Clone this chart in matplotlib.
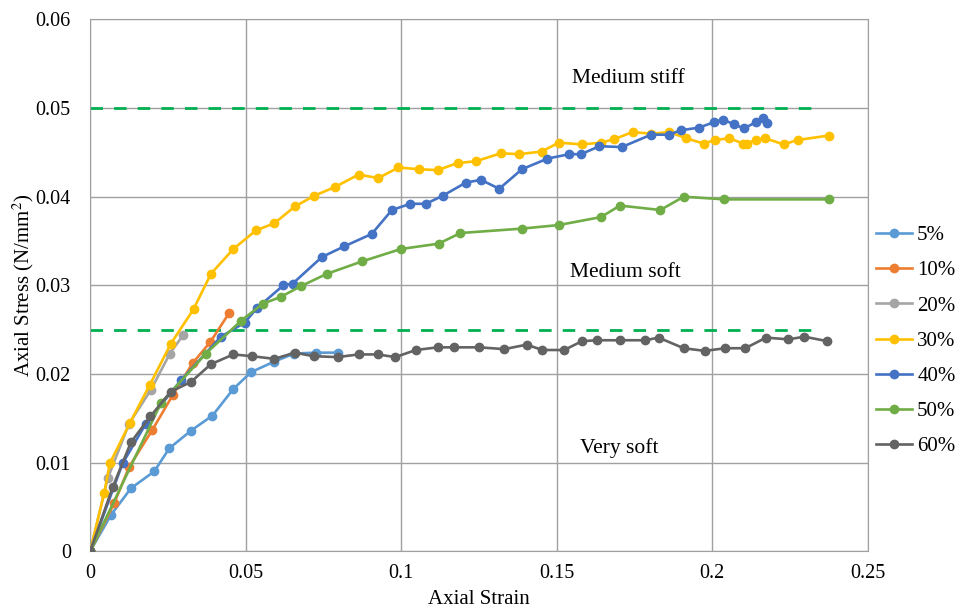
import matplotlib.pyplot as plt

# series labels and colours (Excel default palette)
labels = ['5%', '10%', '20%', '30%', '40%', '50%', '60%']
colors = ['#5B9BD5', '#ED7D31', '#A5A5A5', '#FFC000', '#4472C4', '#70AD47', '#636363']

strain_5 = [0, 0.0067, 0.0131, 0.0206, 0.0254, 0.0324, 0.0393, 0.046, 0.0517, 0.0592, 0.0656, 0.0726, 0.0795]
stress_5 = [0, 0.0041, 0.0071, 0.0090, 0.0116, 0.0136, 0.0153, 0.0183, 0.0202, 0.0214, 0.0223, 0.0224, 0.0224]

strain_10 = [0, 0.0077, 0.0125, 0.0200, 0.0265, 0.0329, 0.0386, 0.0447]
stress_10 = [0, 0.0054, 0.0095, 0.0137, 0.0176, 0.0212, 0.0236, 0.0269]

strain_20 = [0, 0.0056, 0.0125, 0.0195, 0.0256, 0.0299]
stress_20 = [0, 0.0082, 0.0144, 0.0182, 0.0223, 0.0244]

strain_30 = [0, 0.0045, 0.0063, 0.0128, 0.0192, 0.0259, 0.0332, 0.0388, 0.046, 0.0533, 0.0592,
             0.0658, 0.072, 0.0787, 0.0863, 0.0926, 0.0991, 0.1056, 0.1117, 0.1181, 0.124, 0.132,
             0.1379, 0.1452, 0.1506, 0.1581, 0.1642, 0.1685, 0.1744, 0.1804, 0.1862, 0.1915,
             0.1972, 0.201, 0.2055, 0.2098, 0.211, 0.214, 0.217, 0.2229, 0.2274, 0.2374]
stress_30 = [0, 0.0066, 0.0099, 0.0145, 0.0188, 0.0234, 0.0273, 0.0313, 0.0341, 0.0362, 0.0370,
             0.0389, 0.0401, 0.0411, 0.0425, 0.0421, 0.0433, 0.0431, 0.0430, 0.0438, 0.0440, 0.0449,
             0.0448, 0.0451, 0.0461, 0.0459, 0.0461, 0.0465, 0.0473, 0.0471, 0.0473, 0.0466,
             0.0460, 0.0464, 0.0466, 0.0460, 0.0460, 0.0464, 0.0466, 0.0459, 0.0464, 0.0469]

strain_40 = [0, 0.0104, 0.0179, 0.0292, 0.042, 0.0497, 0.0535, 0.0621, 0.0651, 0.0745, 0.0817,
             0.0905, 0.097, 0.1029, 0.1079, 0.1133, 0.1208, 0.1256, 0.1315, 0.1388, 0.147, 0.154,
             0.1578, 0.1637, 0.1709, 0.1803, 0.186, 0.1899, 0.1958, 0.2004, 0.2033, 0.2069,
             0.2101, 0.214, 0.2162, 0.2176]
stress_40 = [0, 0.0099, 0.0144, 0.0193, 0.0242, 0.0258, 0.0274, 0.0300, 0.0302, 0.0332, 0.0344,
             0.0358, 0.0385, 0.0392, 0.0392, 0.0401, 0.0416, 0.0419, 0.0409, 0.0431, 0.0443, 0.0448,
             0.0448, 0.0457, 0.0456, 0.0470, 0.0470, 0.0475, 0.0478, 0.0484, 0.0487, 0.0482,
             0.0477, 0.0484, 0.0489, 0.0483]

strain_50 = [0, 0.0227, 0.0372, 0.0485, 0.0554, 0.0613, 0.0677, 0.0761, 0.0874, 0.0999, 0.112,
             0.119, 0.1388, 0.1506, 0.1642, 0.1703, 0.1833, 0.1908, 0.2039, 0.2376]
stress_50 = [0, 0.0167, 0.0223, 0.0260, 0.0279, 0.0287, 0.0299, 0.0313, 0.0327, 0.0341, 0.0347,
             0.0359, 0.0364, 0.0368, 0.0377, 0.0390, 0.0385, 0.0400, 0.0397, 0.0397]

strain_60 = [0, 0.0072, 0.0131, 0.0193, 0.0259, 0.0324, 0.0388, 0.046, 0.052, 0.0592, 0.0658,
             0.0718, 0.0795, 0.0863, 0.0924, 0.0981, 0.1047, 0.1117, 0.117, 0.1251, 0.1331,
             0.1403, 0.1454, 0.1524, 0.1581, 0.1629, 0.1703, 0.1785, 0.1827, 0.1908, 0.1976,
             0.2041, 0.2106, 0.2173, 0.2244, 0.2296, 0.2369]
stress_60 = [0, 0.0072, 0.0123, 0.0152, 0.0180, 0.0191, 0.0211, 0.0222, 0.0220, 0.0217, 0.0224,
             0.0220, 0.0219, 0.0222, 0.0222, 0.0219, 0.0227, 0.0230, 0.0230, 0.0230, 0.0228,
             0.0233, 0.0227, 0.0227, 0.0237, 0.0238, 0.0238, 0.0238, 0.0241, 0.0229, 0.0226,
             0.0229, 0.0229, 0.0241, 0.0239, 0.0242, 0.0237]

strains = [strain_5, strain_10, strain_20, strain_30, strain_40, strain_50, strain_60]
stresses = [stress_5, stress_10, stress_20, stress_30, stress_40, stress_50, stress_60]

# consistency class boundaries
limit_x = [0, 0.235]
limits = [0.05, 0.025]
zone_names = ['Medium stiff', 'Medium soft', 'Very soft']
zone_x = [0.173, 0.172, 0.170]
zone_y = [0.0533, 0.0315, 0.0116]

plt.rcParams['font.family'] = ['Liberation Serif', 'DejaVu Serif']
plt.rcParams['mathtext.fontset'] = 'stix'

fig = plt.figure(figsize=(9.6, 6.09), dpi=100)
ax = fig.add_axes([0.094, 0.095, 0.81, 0.873])

for x, y, lab, c in zip(strains, stresses, labels, colors):
    ax.plot(x, y, color=c, lw=1.9, marker='o', ms=6, label=lab, zorder=3)

for lim in limits:
    ax.plot(limit_x, [lim, lim], color='#00B050', lw=2, dashes=(4.5, 4), zorder=2)

for name, tx, ty in zip(zone_names, zone_x, zone_y):
    ax.text(tx, ty, name, ha='center', va='center', fontsize=15.5)

ax.set_xlim(0, 0.25)
ax.set_ylim(0, 0.06)
ax.set_xticks([0, 0.05, 0.1, 0.15, 0.2, 0.25])
ax.set_xticklabels(['0', '0.05', '0.1', '0.15', '0.2', '0.25'])
ax.set_yticks([0, 0.01, 0.02, 0.03, 0.04, 0.05, 0.06])
ax.set_yticklabels(['0', '0.01', '0.02', '0.03', '0.04', '0.05', '0.06'])
ax.grid(True, color='#A0A0A0', lw=1, zorder=0)
ax.set_axisbelow(True)
for sp in ax.spines.values():
    sp.set_color('#A0A0A0')
ax.tick_params(length=0, labelsize=14.5, pad=9)
ax.tick_params(axis='y', pad=14)

ax.set_xlabel('Axial Strain', fontsize=15, labelpad=5)
ax.set_ylabel('Axial Stress (N/mm$^2$)', fontsize=15, labelpad=0)

fig.legend(loc='center left', bbox_to_anchor=(0.912, 0.44), frameon=False, fontsize=15,
           borderaxespad=0, borderpad=0, handlelength=1.75, handletextpad=0.25,
           labelspacing=0.75)

fig.savefig('out.png', dpi=100)
